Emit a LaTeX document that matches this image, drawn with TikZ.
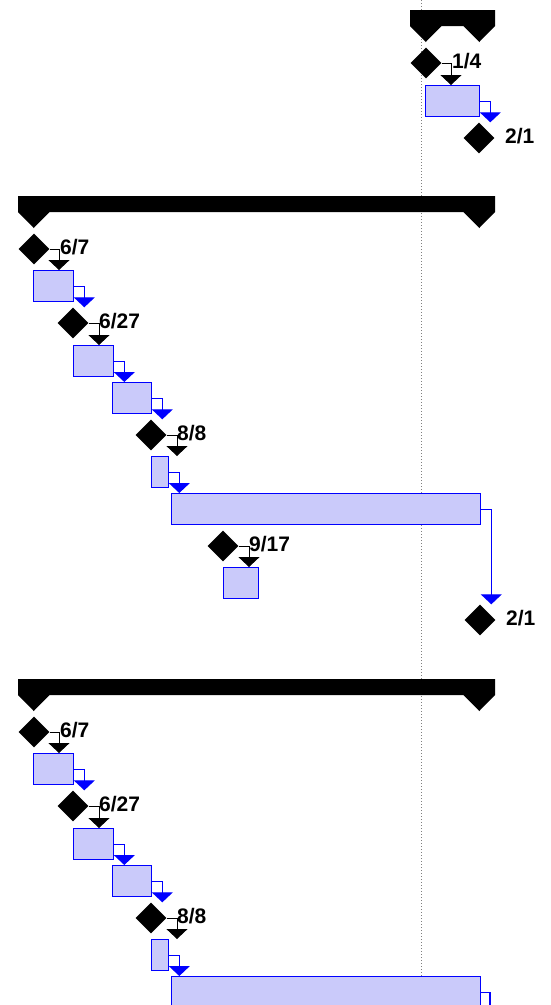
\documentclass[tikz,border=0pt]{standalone}
\usepackage{fontspec}
\setmainfont{Liberation Sans}
\usetikzlibrary{shapes.geometric,arrows.meta,calc}

\definecolor{taskfill}{RGB}{202,202,250}
\definecolor{taskedge}{RGB}{0,0,255}
\definecolor{todaygray}{RGB}{128,128,128}

\tikzset{
  milestone/.style={diamond, aspect=1, fill=black, inner sep=0pt,
                    minimum width=31pt, minimum height=31pt},
  taskbar/.style={rectangle, draw=taskedge, line width=1.3pt, fill=taskfill,
                  inner sep=0pt, anchor=north west, minimum height=31pt},
  datelbl/.style={font=\fontsize{21}{21}\selectfont\bfseries,
                  inner sep=0pt, anchor=base west},
  mslink/.style={draw=black, line width=1pt,
                 -{Triangle[length=10pt,width=21pt]}},
  tasklink/.style={draw=taskedge, line width=1.3pt,
                   -{Triangle[length=10pt,width=21pt]}},
  summary/.style={fill=black},
  todayline/.style={draw=todaygray, line width=0.8pt, dash pattern=on 1pt off 2pt},
}

% summary bar with its two pointed end caps: left x, right x, top y
\newcommand{\summarybar}[3]{%
  \fill[summary] (#1,#3) -- (#2,#3) -- (#2,#3+16) -- (#2-15.75,#3+32)
    -- (#2-31.5,#3+16) -- (#1+31.5,#3+16) -- (#1+15.75,#3+32)
    -- (#1,#3+16) -- cycle;}

% milestone diamond with its date written to the right
\newcommand{\msdate}[4]{% name, x, y, date
  \node[milestone] (#1) at (#2,#3) {};
  \node[datelbl] (#1-date) at ([xshift=26pt,yshift=-5.5pt]#1.center) {#4};}

% the repeated chain of a phase: summary, milestones and tasks
\newcommand{\phasechain}[2]{% #1 name suffix, #2 vertical offset
  \begin{scope}[yshift=-#2pt]
    \summarybar{18}{495}{196}
    \msdate{ma#1}{34}{249}{6/7}
    \node[taskbar, minimum width=40pt] (ta#1) at (33,270) {};
    \msdate{mb#1}{73}{323}{6/27}
    \node[taskbar, minimum width=40pt] (tb#1) at (73,345) {};
    \node[taskbar, minimum width=39pt] (tc#1) at (112,382) {};
    \msdate{mc#1}{151}{435}{8/8}
    \node[taskbar, minimum width=17pt] (td#1) at (151,456) {};
    \node[taskbar, minimum width=309pt] (te#1) at (171,493) {};
  \end{scope}
  \draw[mslink] (ma#1.east) -| ($(ta#1.north west)+(26,0)$);
  \draw[tasklink] (ta#1.east) -| ($(ta#1.east |- mb#1.north)+(10,0)$);
  \draw[mslink] (mb#1.east) -| ($(tb#1.north west)+(26,0)$);
  \draw[tasklink] (tb#1.east) -| ($(tb#1.east |- tc#1.north)+(10,0)$);
  \draw[tasklink] (tc#1.east) -| ($(tc#1.east |- mc#1.north)+(10,0)$);
  \draw[mslink] (mc#1.east) -| ($(td#1.north west)+(26,0)$);
  \draw[tasklink] (td#1.east) -| ($(td#1.east |- te#1.north)+(10,0)$);
}

\begin{document}
\begin{tikzpicture}[x=1pt, y=-1pt]
  \path[use as bounding box, clip] (0,0) rectangle (550,1005);
  \fill[white] (0,0) rectangle (550,1005);

  % status date line
  \coordinate (today-top) at (421,0);
  \coordinate (today-bottom) at (421,1005);
  \draw[todayline] (today-top) -- (today-bottom);

  % first phase
  \summarybar{410}{495}{10}
  \msdate{m0}{426}{63}{1/4}
  \node[taskbar, minimum width=54pt] (t0) at (425,85) {};
  \msdate{m0end}{479}{138}{2/1}
  \draw[mslink] (m0.east) -| ($(t0.north west)+(26,0)$);
  \draw[tasklink] (t0.east) -| ($(t0.east |- m0end.north)+(10,0)$);

  % second phase
  \phasechain{}{0}
  \msdate{mf}{223}{546}{9/17}
  \node[taskbar, minimum width=35pt] (tf) at (223,567) {};
  \msdate{me}{480}{620}{2/1}
  \draw[mslink] (mf.east) -| ($(tf.north west)+(26,0)$);
  \draw[tasklink] (te.east) -| ($(te.east |- me.north)+(10,0)$);

  % third phase, running past the lower edge
  \phasechain{3}{483}
  \coordinate (te3-next) at (490,1030);
  \draw[draw=taskedge, line width=1.3pt] (te3.east) -| (te3-next);
\end{tikzpicture}
\end{document}
